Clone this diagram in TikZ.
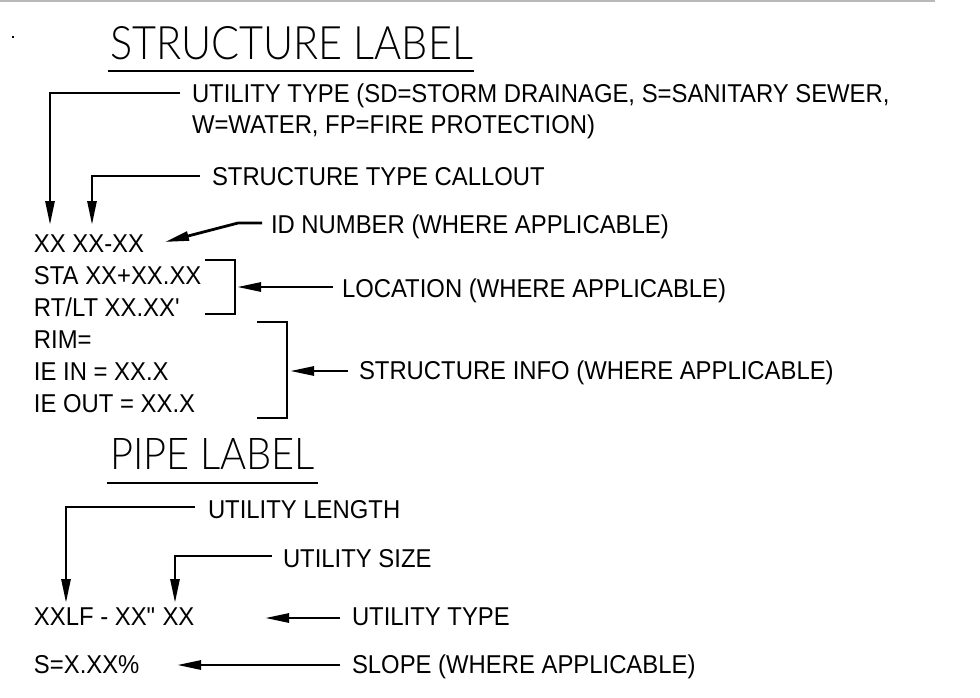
\documentclass[tikz,border=0pt]{standalone}
\usepackage{fontspec}
\setmainfont{Liberation Sans}[FakeStretch=0.925]
\IfFontExistsTF{Lato Light}{\newfontfamily\titlefont{Lato Light}}{\newfontfamily\titlefont{Lato}}
\usetikzlibrary{arrows.meta}
\definecolor{rulegray}{RGB}{185,185,185}
\newcommand\sqt{\XeTeXglyph\XeTeXcharglyph"27\relax}
\newcommand\dqt{\XeTeXglyph\XeTeXcharglyph"22\relax}
\begin{document}
\begin{tikzpicture}[x=1pt,y=-1pt,
  txt/.style={anchor=base west,inner sep=0pt,outer sep=0pt,font=\fontsize{25.8}{31}\selectfont},
  ttl/.style={anchor=base west,inner sep=0pt,outer sep=0pt},
  uline/.style={line width=2.6pt},
  arr/.style={line width=2.8pt,-{Triangle[length=24pt,width=9pt]}},
  brk/.style={line width=2.8pt}]
\useasboundingbox (0,0) rectangle (980,697);
\fill[white] (0,0) rectangle (980,697);
\draw[rulegray,line width=1.5pt] (0,0.75) -- (935,0.75);
\fill (11.5,36) rectangle (13.5,38);

% titles
\node[ttl] (title1) at (110,59) {\resizebox{363pt}{33pt}{\titlefont STRUCTURE LABEL}};
\draw[uline] (108,71) -- (474,71);
\node[ttl] (title2) at (110,469) {\resizebox{205pt}{31pt}{\titlefont PIPE LABEL}};
\draw[uline] (107,483) -- (318,483);

% structure label texts
\node[txt] (ut1) at (192,102) {UTILITY TYPE (SD=STORM DRAINAGE, S=SANITARY SEWER,};
\node[txt] (ut2) at (192,133) {W=WATER, FP=FIRE PROTECTION)};
\node[txt] (stc) at (212,185) {STRUCTURE TYPE CALLOUT};
\node[txt] (idn) at (271,233) {ID NUMBER (WHERE APPLICABLE)};
\node[txt] (xx) at (34,252) {XX XX-XX};
\node[txt] (sta) at (34,284) {STA XX+XX.XX};
\node[txt] (rtlt) at (34,316) {RT/LT XX.XX\sqt};
\node[txt] (loc) at (342,297) {LOCATION (WHERE APPLICABLE)};
\node[txt] (rim) at (34,348) {RIM=};
\node[txt] (iein) at (34,380) {IE IN = XX.X};
\node[txt] (ieout) at (34,412) {IE OUT = XX.X};
\node[txt] (si) at (359,379) {STRUCTURE INFO (WHERE APPLICABLE)};

% pipe label texts
\node[txt] (ul) at (208,518) {UTILITY LENGTH};
\node[txt] (us) at (283,567) {UTILITY SIZE};
\node[txt] (xxlf) at (34,625) {XXLF - XX\dqt{} XX};
\node[txt] (utype) at (352,625) {UTILITY TYPE};
\node[txt] (s) at (34,673) {S=X.XX\%};
\node[txt] (slope) at (352,673) {SLOPE (WHERE APPLICABLE)};

% target coordinates
\coordinate (tUT) at (50,225);
\coordinate (tSTC) at (92,225);
\coordinate (kID) at (238,223);
\coordinate (tID) at (165,242);
\coordinate (tLOC) at (237,287);
\coordinate (tSI) at (290,371);
\coordinate (tUL) at (66,603);
\coordinate (tUS) at (175,603);
\coordinate (tUTY) at (265,618);
\coordinate (tSL) at (177,665);

% leaders
\draw[arr] ([xshift=-12pt,yshift=9pt]ut1.base west) -| (tUT);
\draw[arr] ([xshift=-12pt,yshift=9pt]stc.base west) -| (tSTC);
\draw[arr] ([xshift=-9pt,yshift=10pt]idn.base west) -- (kID) -- (tID);
\draw[brk] (205,260) -- (235,260) -- (235,314) -- (205,314);
\draw[arr] ([xshift=-9pt,yshift=10pt]loc.base west) -- (tLOC);
\draw[brk] (257,322) -- (287,322) -- (287,418) -- (257,418);
\draw[arr] ([xshift=-11pt,yshift=8pt]si.base west) -- (tSI);
\draw[arr] ([xshift=-13pt,yshift=11pt]ul.base west) -| (tUL);
\draw[arr] ([xshift=-11pt,yshift=11pt]us.base west) -| (tUS);
\draw[arr] ([xshift=-12pt,yshift=7pt]utype.base west) -- (tUTY);
\draw[arr] ([xshift=-12pt,yshift=8pt]slope.base west) -- (tSL);
\end{tikzpicture}
\end{document}
